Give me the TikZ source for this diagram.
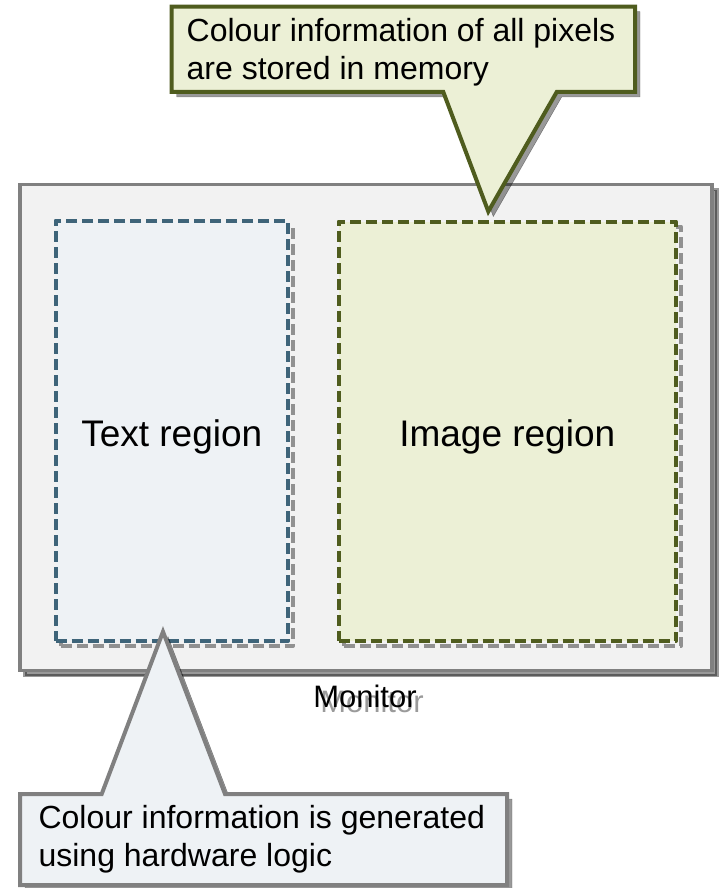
\documentclass[tikz,border=0pt]{standalone}
\usepackage{fontspec}
\setmainfont{Liberation Sans}
\definecolor{monfill}{HTML}{F2F2F2}
\definecolor{monline}{HTML}{808080}
\definecolor{shade}{HTML}{9A9A9A}
\definecolor{bluefill}{HTML}{EEF2F5}
\definecolor{blueline}{HTML}{3E6479}
\definecolor{olivefill}{HTML}{ECF0D6}
\definecolor{oliveline}{HTML}{4F5C1E}
\tikzset{
  x=1pt, y=-1pt,
  solidshade/.style={preaction={fill=black, draw=black, opacity=0.4,
      transform canvas={shift={(5pt,-5pt)}}}},
  dashshade/.style={preaction={draw=black, opacity=0.4, fill=none,
      transform canvas={shift={(5pt,-5pt)}}}},
  monitorbox/.style={draw=monline, fill=monfill, line width=3.6pt, solidshade, inner sep=0pt},
  regionbox/.style={line width=4pt, dash pattern=on 11pt off 5pt, line join=round,
    dashshade, inner sep=0pt},
  textarea/.style={regionbox, draw=blueline, fill=bluefill},
  imagearea/.style={regionbox, draw=oliveline, fill=olivefill},
  regionlabel/.style={anchor=base, inner sep=0pt, font=\fontsize{37}{42}\selectfont},
  calloutshape/.style={line width=4pt, line join=miter, solidshade},
  calloutext/.style={anchor=base west, inner sep=0pt, font=\fontsize{32}{37.5}\selectfont},
  caption/.style={anchor=base, inner sep=0pt, font=\fontsize{31}{36}\selectfont},
}
\begin{document}
\begin{tikzpicture}
\useasboundingbox (0,0) rectangle (722,888);

% monitor frame and its two regions
\node[monitorbox, minimum width=692pt, minimum height=486pt] (monitor) at (366,427.5) {};
\node[textarea, minimum width=232.5pt, minimum height=420.5pt] (textreg) at (171.75,430.75) {};
\node[imagearea, minimum width=337.5pt, minimum height=419.5pt] (imagereg) at (507.25,431.25) {};
\node[regionlabel] (textlbl) at (171.75,446) {Text region};
\node[regionlabel] (imagelbl) at (507.25,446) {Image region};

% caption with its grey echo
\node[caption, text=shade] (monshade) at (372,712) {Monitor};
\node[caption] (monlbl) at (365,707) {Monitor};

% callout for the image region
\coordinate (toptip) at (488.3,211.5);
\draw[calloutshape, draw=oliveline, fill=olivefill]
  (171.7,6.7) -- (635,6.7) -- (635,92) -- (556.7,92) -- (toptip)
  -- (443.3,92) -- (171.7,92) -- cycle;
\node[calloutext] (topline1) at (186.5,41.7) {Colour information of all pixels};
\node[calloutext] (topline2) at (186.5,79.2) {are stored in memory};

% callout for the text region
\coordinate (bottip) at (163,631.7);
\draw[calloutshape, draw=monline, fill=bluefill]
  (20,794) -- (101.7,794) -- (bottip) -- (225,794) -- (507,794)
  -- (507,885) -- (20,885) -- cycle;
\node[calloutext] (botline1) at (38.4,828) {Colour information is generated};
\node[calloutext] (botline2) at (38.4,866) {using hardware logic};
\end{tikzpicture}
\end{document}
